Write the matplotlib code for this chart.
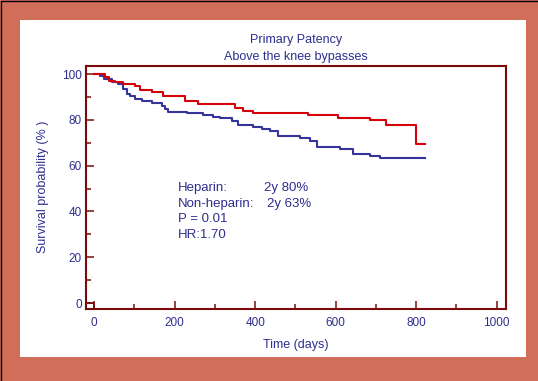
import matplotlib
matplotlib.use("Agg")
import matplotlib.pyplot as plt
from matplotlib.patches import Rectangle
from matplotlib.ticker import MultipleLocator

plt.rcParams["font.family"] = ["Liberation Sans", "DejaVu Sans"]

# Kaplan-Meier steps (days, % patent)
heparin_t = [0, 27, 38, 52, 72, 102, 114, 144, 171, 226, 258, 350, 370, 395,
             532, 606, 686, 725, 800, 822]
heparin_v = [100, 98.6, 97.0, 96.4, 95.6, 94.6, 93.1, 92.0, 90.5, 88.3, 86.8,
             85.0, 83.9, 82.8, 82.1, 80.8, 80.0, 77.8, 69.4, 69.4]

nonhep_t = [0, 15, 25, 45, 60, 72, 82, 89, 102, 118, 143, 168, 176, 184, 230,
            271, 296, 313, 342, 358, 395, 416, 437, 457, 512, 536, 553, 611,
            643, 686, 711, 822]
nonhep_v = [100, 99.0, 97.8, 96.5, 95.5, 93.4, 91.2, 90.2, 89.0, 88.0, 87.2,
            86.1, 84.6, 83.6, 82.9, 82.3, 81.4, 80.6, 79.5, 77.6, 77.0, 75.9,
            75.1, 72.9, 71.9, 70.8, 68.3, 67.4, 65.2, 64.2, 63.5, 63.5]

x_ticks = [0, 200, 400, 600, 800, 1000]
y_ticks = [0, 20, 40, 60, 80, 100]

W, H = 538, 381
border = "#D06E5A"
frame = "#7A0A0A"
txt = "#2E2E8E"
red = "#D5000A"
blue = "#34349A"

fig = plt.figure(figsize=(W / 100, H / 100), dpi=100)
fig.patch.set_facecolor(border)

# white panel inside the orange frame
fig.patches.append(Rectangle((20 / W, (H - 357) / H), (526 - 20) / W, (357 - 20) / H,
                             transform=fig.transFigure, facecolor="white",
                             edgecolor="none", zorder=-5))
# thin black outline at top/left edge
fig.lines.append(plt.Line2D([0.5 / W, 0.5 / W, 1], [0, 1 - 0.5 / H, 1 - 0.5 / H],
                            transform=fig.transFigure, color="black", lw=1,
                            zorder=-4))

ax = fig.add_axes([86 / W, (H - 309) / H, (506 - 86) / W, (309 - 66) / H])
ax.set_facecolor("white")

ax.step(nonhep_t, nonhep_v, where="post", color=blue, lw=1.5)
ax.step(heparin_t, heparin_v, where="post", color=red, lw=1.5)

# little reference corner at the origin
ax.plot([-20, 0, 0], [0, 0, -3], color=frame, lw=1.2)

ax.set_xlim(-20, 1023)
ax.set_ylim(-2.6, 103.5)
ax.set_xticks(x_ticks)
ax.set_yticks(y_ticks)
ax.xaxis.set_minor_locator(MultipleLocator(100))
ax.yaxis.set_minor_locator(MultipleLocator(10))

for s in ax.spines.values():
    s.set_color(frame)
    s.set_linewidth(1.5)
ax.tick_params(which="major", direction="in", length=6, width=1.1, color=frame,
               labelcolor=txt, labelsize=8.5)
ax.tick_params(which="minor", direction="in", length=3.5, width=1.1, color=frame)
ax.tick_params(axis="y", pad=3)
ax.tick_params(axis="x", pad=6)

fig.text(296 / W, 1 - 40 / H, "Primary Patency", ha="center", va="center",
         color=txt, fontsize=9)
fig.text(296 / W, 1 - 57 / H, "Above the knee bypasses", ha="center", va="center",
         color=txt, fontsize=9)
fig.text(296 / W, 1 - 345 / H, "Time (days)", ha="center", va="center",
         color=txt, fontsize=9)
fig.text(43 / W, 1 - 187 / H, "Survival probability (% )", ha="center", va="center",
         rotation=90, color=txt, fontsize=9)

kw = dict(transform=ax.transAxes, color=txt, fontsize=9.5, va="center")
ax.text(0.219, 0.500, "Heparin:", **kw)
ax.text(0.424, 0.500, "2y 80%", **kw)
ax.text(0.219, 0.433, "Non-heparin:", **kw)
ax.text(0.431, 0.433, "2y 63%", **kw)
ax.text(0.219, 0.369, "P = 0.01", **kw)
ax.text(0.219, 0.305, "HR:1.70", **kw)

fig.savefig("out.png", dpi=100, facecolor=fig.get_facecolor())
